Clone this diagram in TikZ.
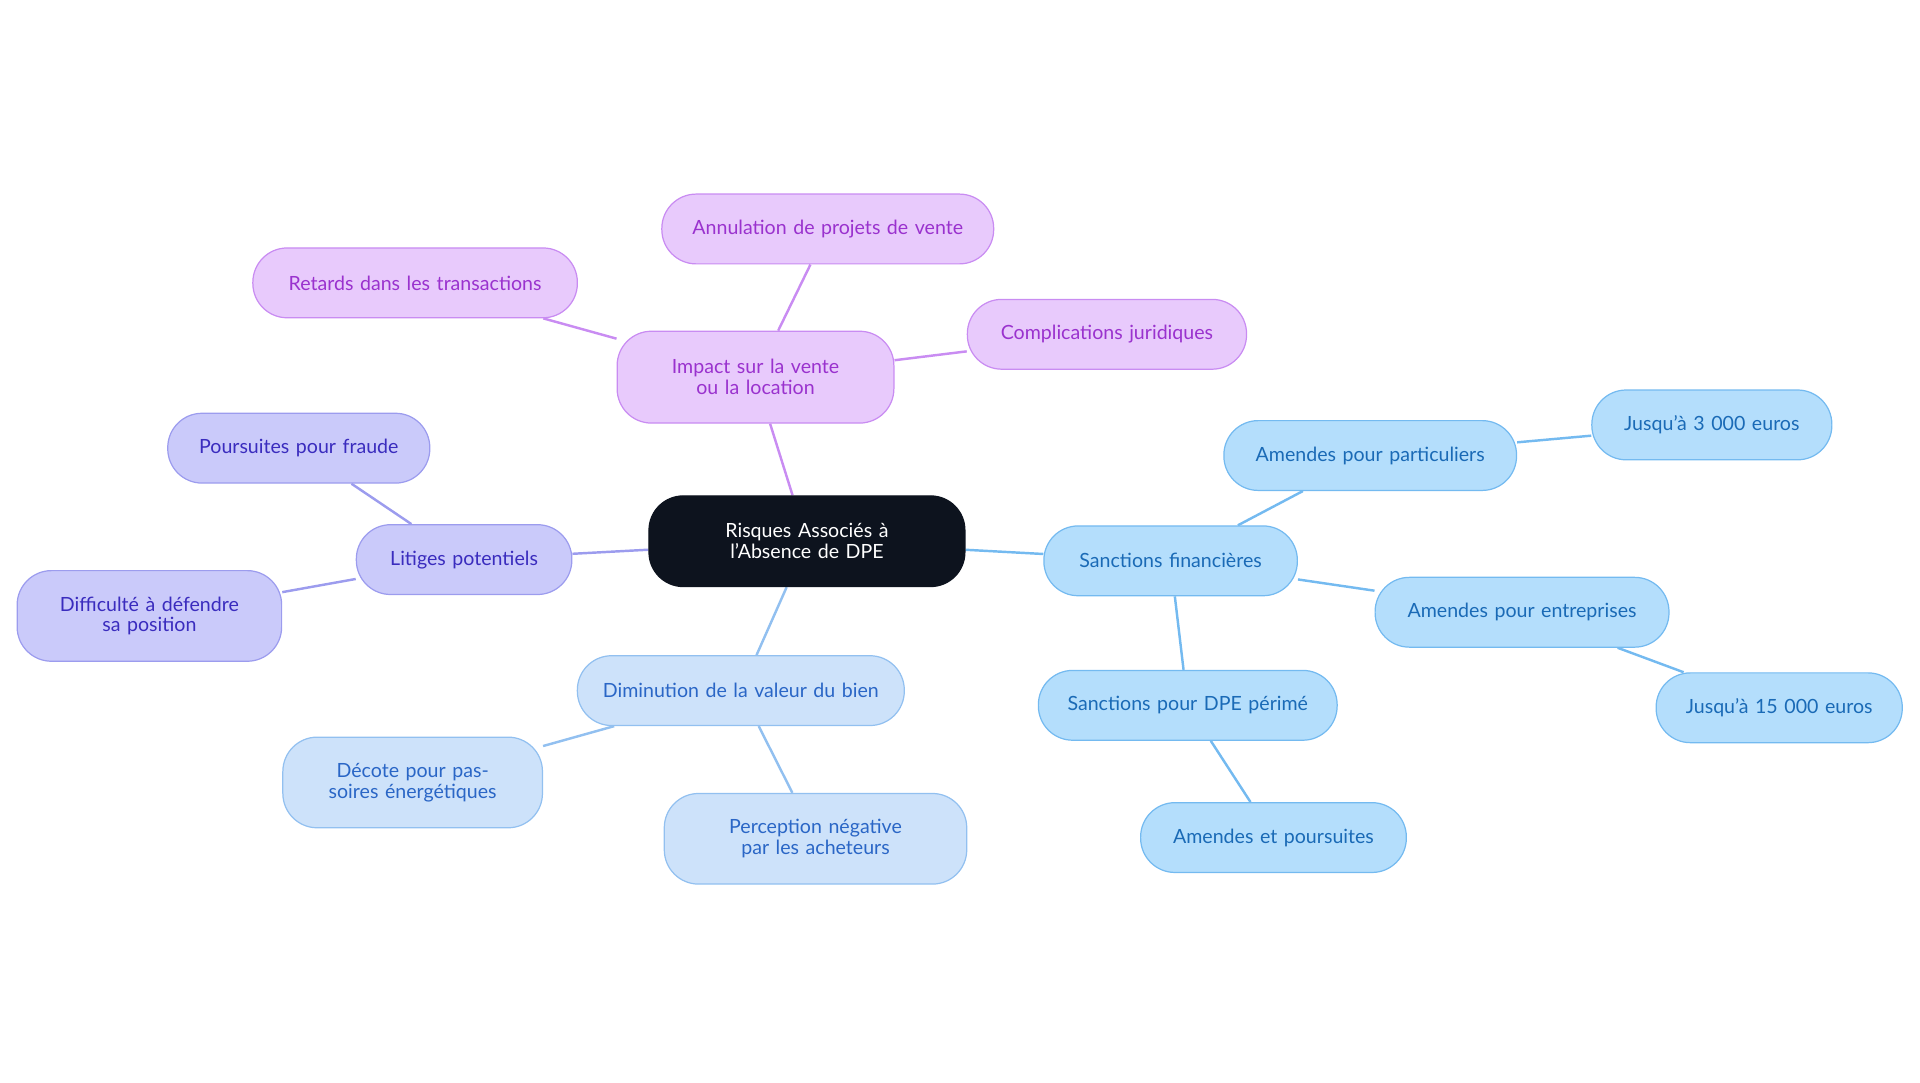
\documentclass[tikz,border=0pt]{standalone}
\usepackage{fontspec}
\setmainfont{Lato}
\usetikzlibrary{backgrounds}
\definecolor{pF}{HTML}{E8CAFC}\definecolor{pD}{HTML}{C98CF2}\definecolor{pT}{HTML}{9A32CE}
\definecolor{vF}{HTML}{CACAFA}\definecolor{vD}{HTML}{9C9CEE}\definecolor{vT}{HTML}{3A2CBE}
\definecolor{lF}{HTML}{CDE2FA}\definecolor{lD}{HTML}{92C0F0}\definecolor{lT}{HTML}{2A66C6}
\definecolor{sF}{HTML}{B4DEFC}\definecolor{sD}{HTML}{74BAF0}\definecolor{sT}{HTML}{1A6AB6}
\definecolor{rF}{HTML}{0D131E}
\begin{document}
\begin{tikzpicture}[x=1pt,y=-1pt,
 base/.style={rounded corners=28pt,draw,line width=1pt,align=center,font=\fontsize{16}{17}\selectfont,inner sep=0pt},
 n/.style 2 args={base,minimum width=#1pt,minimum height=#2pt,text width=#1pt-40pt},
 P/.style={fill=pF,draw=pD,text=pT},V/.style={fill=vF,draw=vD,text=vT},
 L/.style={fill=lF,draw=lD,text=lT},S/.style={fill=sF,draw=sD,text=sT},
 e/.style={line width=2pt}]
\useasboundingbox (0,0) rectangle (1568,884);
\node[n={258}{74},fill=rF,draw=rF,text=white] (root) at (659,442) {Risques Associés à l'Absence de DPE};
\node[n={226}{75},P] (impact) at (617,308) {Impact sur la vente ou la location};
\node[n={271}{57},P] (ann) at (676,187) {Annulation de projets de vente};
\node[n={265}{57},P] (ret) at (339,231) {Retards dans les transactions};
\node[n={228}{57},P] (comp) at (904,273) {Complications juridiques};
\node[n={176}{57},V] (lit) at (379,457) {Litiges potentiels};
\node[n={214}{57},V] (pou) at (244,366) {Poursuites pour fraude};
\node[n={216}{74},V] (dif) at (122,503) {Difficulté à défendre sa position};
\node[n={267}{57},L] (dim) at (605,564) {Diminution de la valeur du bien};
\node[n={212}{74},L] (dec) at (337,639) {Décote pour passoires énergétiques};
\node[n={247}{74},L] (per) at (666,685) {Perception négative par les acheteurs};
\node[n={207}{57},S] (san) at (956,458) {Sanctions financières};
\node[n={239}{57},S] (par) at (1119,372) {Amendes pour particuliers};
\node[n={196}{57},S] (tro) at (1398,347) {Jusqu'à 3 000 euros};
\node[n={240}{57},S] (ent) at (1243,500) {Amendes pour entreprises};
\node[n={201}{57},S] (qui) at (1453,578) {Jusqu'à 15 000 euros};
\node[n={244}{57},S] (pim) at (970,576) {Sanctions pour DPE périmé};
\node[n={217}{57},S] (ame) at (1040,684) {Amendes et poursuites};
\begin{scope}[on background layer]
\draw[e,pD] (root)--(impact) (impact)--(ann) (impact)--(ret) (impact)--(comp);
\draw[e,vD] (root)--(lit) (lit)--(pou) (lit)--(dif);
\draw[e,lD] (root)--(dim) (dim)--(dec) (dim)--(per);
\draw[e,sD] (root)--(san) (san)--(par) (san)--(ent) (san)--(pim) (par)--(tro) (ent)--(qui) (pim)--(ame);
\end{scope}
\end{tikzpicture}
\end{document}
